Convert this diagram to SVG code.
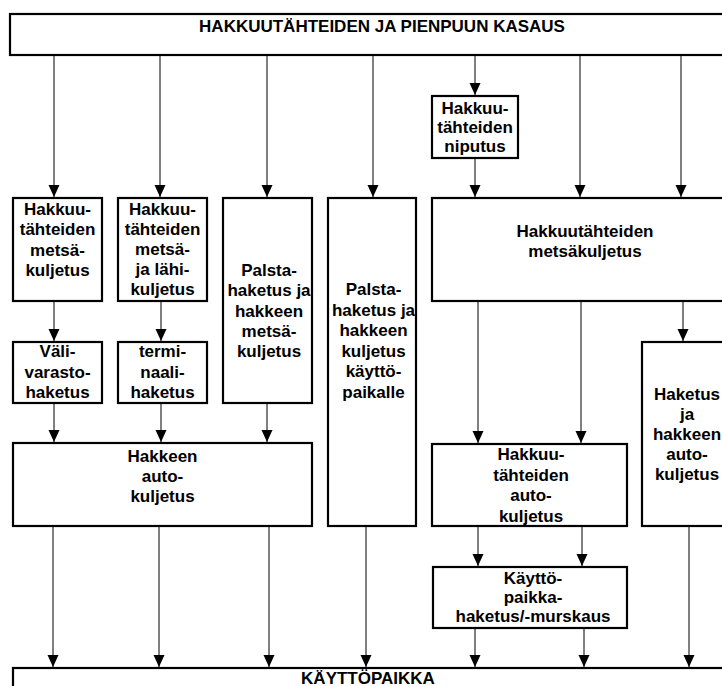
<svg xmlns="http://www.w3.org/2000/svg" width="722" height="686" viewBox="0 0 722 686">
<defs>
<marker id="ah" markerUnits="userSpaceOnUse" markerWidth="12" markerHeight="12" refX="12" refY="5.5" orient="auto">
<path d="M0,0 L12,5.5 L0,11 z" fill="#000"/>
</marker>
<style>
.box{fill:#fff;stroke:#000;stroke-width:2.2}
.t{font-family:"Liberation Sans",Arial,sans-serif;font-weight:bold;font-size:17px;text-anchor:middle;fill:#000}
.c{stroke:#000;stroke-width:1;fill:none;marker-end:url(#ah)}
</style>
</defs>
<rect width="722" height="686" fill="#fff"/>

<g id="top">
<rect class="box" x="10" y="14" width="740" height="41"/>
<text class="t" x="382" y="32">HAKKUUTÄHTEIDEN JA PIENPUUN KASAUS</text>
</g>

<g id="boxA">
<rect class="box" x="13" y="198" width="89" height="103"/>
<text class="t" x="57.5" y="215">Hakkuu-<tspan x="57.5" dy="20.3">tähteiden</tspan><tspan x="57.5" dy="20.3">metsä-</tspan><tspan x="57.5" dy="20.3">kuljetus</tspan></text>
</g>

<g id="boxB">
<rect class="box" x="118" y="198" width="89" height="103"/>
<text class="t" x="162.5" y="215">Hakkuu-<tspan x="162.5" dy="20">tähteiden</tspan><tspan x="162.5" dy="20">metsä-</tspan><tspan x="162.5" dy="20">ja lähi-</tspan><tspan x="162.5" dy="20">kuljetus</tspan></text>
</g>

<g id="boxC">
<rect class="box" x="223" y="198" width="89" height="205"/>
<text class="t" x="269" y="276">Palsta-<tspan x="269" dy="20.3">haketus ja</tspan><tspan x="269" dy="20.3">hakkeen</tspan><tspan x="269" dy="20.3">metsä-</tspan><tspan x="269" dy="20.3">kuljetus</tspan></text>
</g>

<g id="boxD">
<rect class="box" x="328" y="198" width="88" height="328"/>
<text class="t" x="373.5" y="295">Palsta-<tspan x="373.5" dy="20.6">haketus ja</tspan><tspan x="373.5" dy="20.6">hakkeen</tspan><tspan x="373.5" dy="20.6">kuljetus</tspan><tspan x="373.5" dy="20.6">käyttö-</tspan><tspan x="373.5" dy="20.6">paikalle</tspan></text>
</g>

<g id="vali">
<rect class="box" x="13" y="342" width="89" height="61"/>
<text class="t" x="57.5" y="357">Väli-<tspan x="57.5" dy="20.5">varasto-</tspan><tspan x="57.5" dy="20.5">haketus</tspan></text>
</g>

<g id="termi">
<rect class="box" x="118" y="342" width="89" height="61"/>
<text class="t" x="162.5" y="357">termi-<tspan x="162.5" dy="20.5">naali-</tspan><tspan x="162.5" dy="20.5">haketus</tspan></text>
</g>

<g id="hakkeen">
<rect class="box" x="13" y="443" width="299" height="83"/>
<text class="t" x="162.5" y="462">Hakkeen<tspan x="162.5" dy="20">auto-</tspan><tspan x="162.5" dy="20">kuljetus</tspan></text>
</g>

<g id="niputus">
<rect class="box" x="432" y="96" width="86" height="62"/>
<text class="t" x="475" y="114">Hakkuu-<tspan x="475" dy="19">tähteiden</tspan><tspan x="475" dy="19">niputus</tspan></text>
</g>

<g id="metsakuljetus">
<rect class="box" x="432" y="198" width="310" height="103"/>
<text class="t" x="585" y="237">Hakkuutähteiden<tspan x="585" dy="20">metsäkuljetus</tspan></text>
</g>

<g id="autokuljetus">
<rect class="box" x="432" y="444" width="195" height="82"/>
<text class="t" x="531" y="460">Hakkuu-<tspan x="531" dy="20.5">tähteiden</tspan><tspan x="531" dy="20.5">auto-</tspan><tspan x="531" dy="20.5">kuljetus</tspan></text>
</g>

<g id="haketus">
<rect class="box" x="642" y="342" width="90" height="184"/>
<text class="t" x="687" y="400">Haketus<tspan x="687" dy="20">ja</tspan><tspan x="687" dy="20">hakkeen</tspan><tspan x="687" dy="20">auto-</tspan><tspan x="687" dy="20">kuljetus</tspan></text>
</g>

<g id="kayttopaikkahaketus">
<rect class="box" x="433" y="567" width="194" height="61"/>
<text class="t" x="533" y="584">Käyttö-<tspan x="533" dy="19">paikka-</tspan><tspan x="533" dy="19">haketus/-murskaus</tspan></text>
</g>

<g id="kayttopaikka">
<rect class="box" x="13" y="668" width="740" height="40"/>
<text class="t" x="368" y="684">KÄYTTÖPAIKKA</text>
</g>

<g id="connectors">
<line class="c" x1="54" y1="56" x2="54" y2="197"/>
<line class="c" x1="160" y1="56" x2="160" y2="197"/>
<line class="c" x1="267" y1="56" x2="267" y2="197"/>
<line class="c" x1="373" y1="56" x2="373" y2="197"/>
<line class="c" x1="475" y1="56" x2="475" y2="95"/>
<line class="c" x1="580" y1="56" x2="580" y2="197"/>
<line class="c" x1="681" y1="56" x2="681" y2="197"/>
<line class="c" x1="475" y1="159" x2="475" y2="197"/>
<line class="c" x1="54" y1="302" x2="54" y2="341"/>
<line class="c" x1="161" y1="302" x2="161" y2="341"/>
<line class="c" x1="54" y1="404" x2="54" y2="442"/>
<line class="c" x1="161" y1="404" x2="161" y2="442"/>
<line class="c" x1="267" y1="404" x2="267" y2="442"/>
<line class="c" x1="53" y1="527" x2="53" y2="667"/>
<line class="c" x1="159" y1="527" x2="159" y2="667"/>
<line class="c" x1="269" y1="527" x2="269" y2="667"/>
<line class="c" x1="366" y1="527" x2="366" y2="667"/>
<line class="c" x1="478" y1="302" x2="478" y2="443"/>
<line class="c" x1="581" y1="302" x2="581" y2="443"/>
<line class="c" x1="683" y1="302" x2="683" y2="341"/>
<line class="c" x1="478" y1="527" x2="478" y2="566"/>
<line class="c" x1="582" y1="527" x2="582" y2="566"/>
<line class="c" x1="475" y1="629" x2="475" y2="667"/>
<line class="c" x1="584" y1="629" x2="584" y2="667"/>
<line class="c" x1="689" y1="527" x2="689" y2="667"/>
</g>
</svg>
